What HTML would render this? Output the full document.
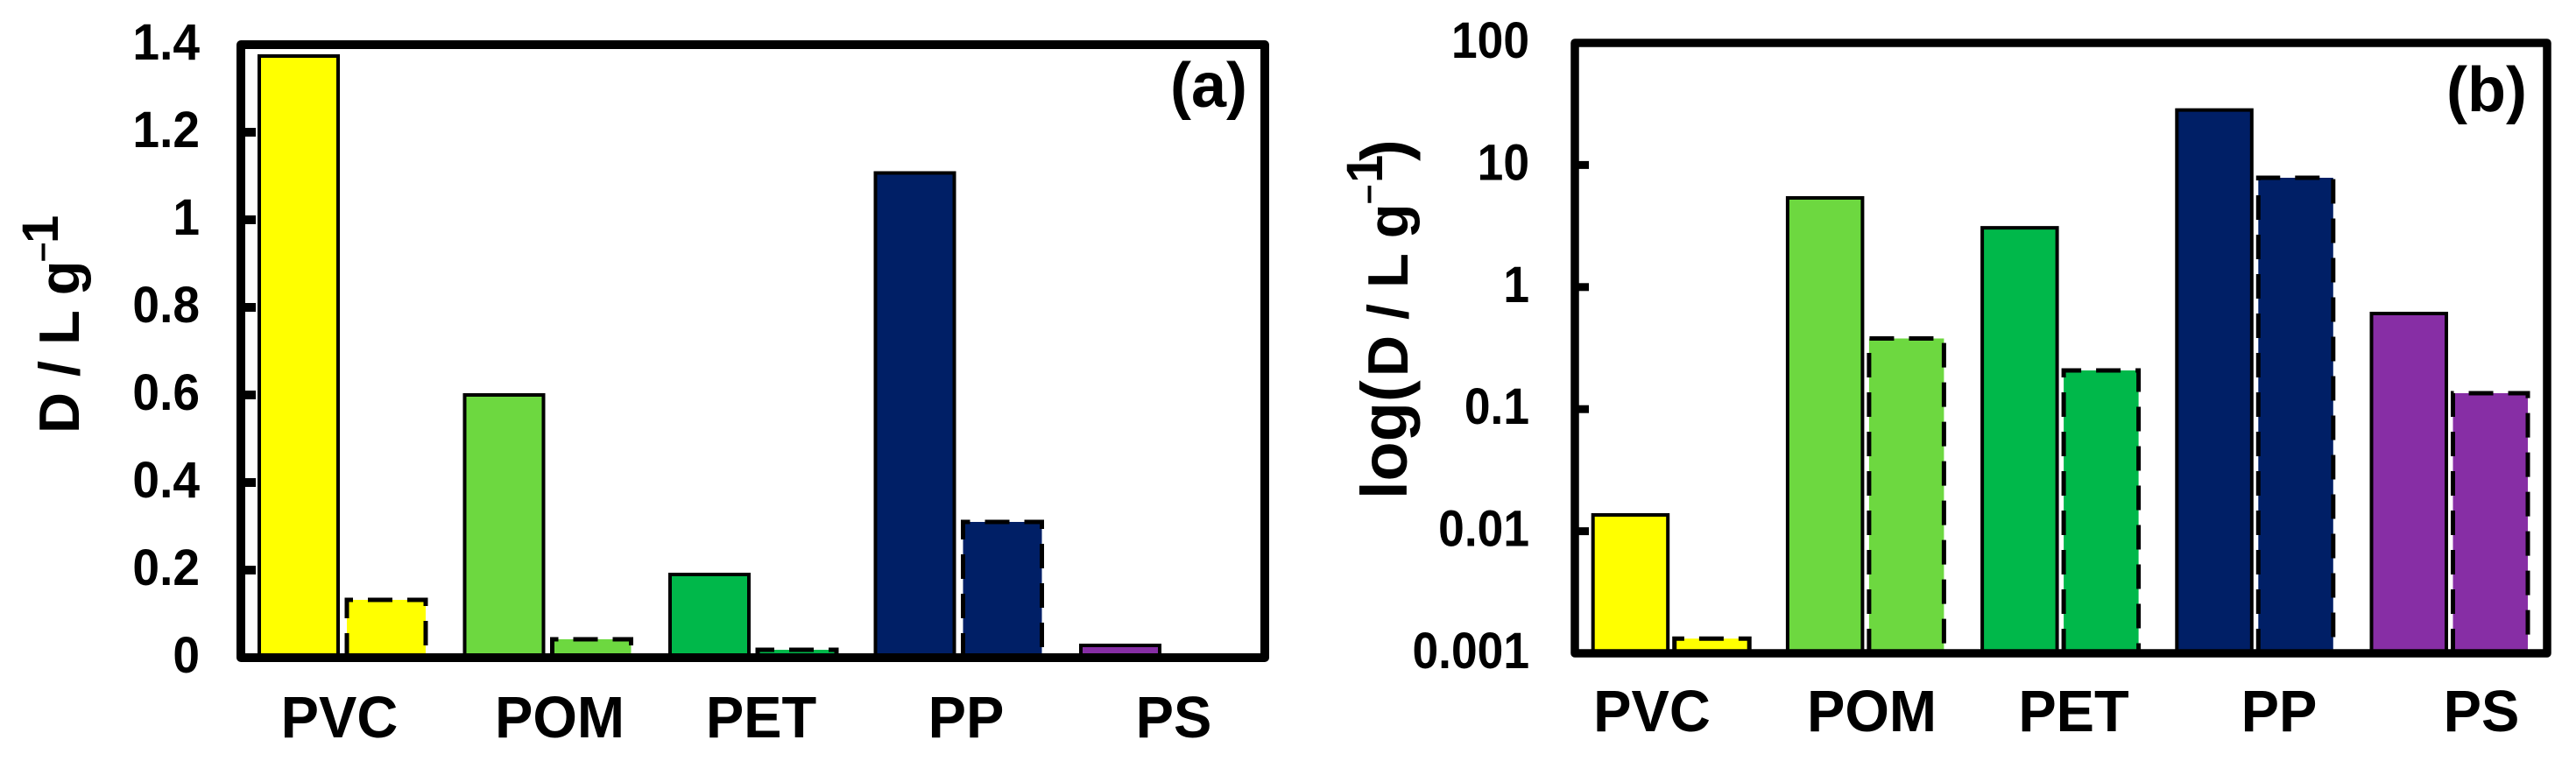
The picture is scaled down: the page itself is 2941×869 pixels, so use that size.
<!DOCTYPE html>
<html lang="en">
<head>
<meta charset="utf-8">
<title>D / L g-1 bar charts</title>
<style>
html,body{margin:0;padding:0;background:#fff;width:2941px;height:869px;overflow:hidden}
svg{display:block}
text{font-family:"Liberation Sans",Arial,sans-serif;font-weight:700;fill:#000}
</style>
</head>
<body>
<svg id="figure" xmlns="http://www.w3.org/2000/svg" width="2941" height="869" viewBox="0 0 2941 869">
  <rect width="2941" height="869" fill="#fff"/>
  <g id="panelA"></g>
  <g id="panelB"></g>

  <g>
    <text font-size="65" transform="translate(90,495) rotate(-90)">D / L g</text>
    <text font-size="40" transform="translate(60,299) rotate(-90)">–</text>
    <text font-size="58" transform="translate(66,278) rotate(-90)">1</text>
  </g>
  <g>
    <text font-size="74" transform="translate(1606,570) rotate(-90)">log(</text>
    <text font-size="65" transform="translate(1607,430) rotate(-90)">D / L g</text>
    <text font-size="40" transform="translate(1574,233) rotate(-90)">–</text>
    <text font-size="58" transform="translate(1578,209) rotate(-90)">1</text>
    <text font-size="74" transform="translate(1606,184) rotate(-90)">)</text>
  </g>

  <g font-size="67" text-anchor="middle">
    <text transform="translate(387.5,842) scale(.97,1)">PVC</text>
    <text transform="translate(639,842) scale(.97,1)">POM</text>
    <text transform="translate(869,842) scale(.97,1)">PET</text>
    <text transform="translate(1103,842) scale(.97,1)">PP</text>
    <text transform="translate(1340,842) scale(.97,1)">PS</text>
  </g>
  <g font-size="67" text-anchor="middle">
    <text transform="translate(1886,835) scale(.97,1)">PVC</text>
    <text transform="translate(2137,835) scale(.97,1)">POM</text>
    <text transform="translate(2367.5,835) scale(.97,1)">PET</text>
    <text transform="translate(2602,835) scale(.97,1)">PP</text>
    <text transform="translate(2833,835) scale(.97,1)">PS</text>
  </g>

  <text font-size="72" x="1336" y="122">(a)</text>
  <text font-size="72" x="2793" y="127">(b)</text>
</svg>

<script>
const categories = ['PVC', 'POM', 'PET', 'PP', 'PS'];
const solidA = [1.374, 0.60, 0.19, 1.107, 0.028];
const dashedA = [0.132, 0.042, 0.018, 0.31, 0];
const solidB = [0.0136, 5.37, 3.06, 28.2, 0.607];
const dashedB = [0.00132, 0.379, 0.2075, 7.86, 0.135];
const tickValuesA = [0, 0.2, 0.4, 0.6, 0.8, 1, 1.2, 1.4];
const tickValuesB = [0.001, 0.01, 0.1, 1, 10, 100];
const barColors = ['#ffff00', '#6dd840', '#00b84a', '#001f66', '#872ea5'];

const NS = 'http://www.w3.org/2000/svg';
function make(tag, attrs, parent) {
  const el = document.createElementNS(NS, tag);
  for (const k in attrs) el.setAttribute(k, attrs[k]);
  parent.appendChild(el);
  return el;
}

const yA = v => 751 - v * 500;
const yB = v => 746 - Math.log10(v / 0.001) * 139.4;

function drawPanel(root, cfg) {
  cfg.ticks.forEach(function (t) {
    const y = cfg.y(t);
    const mark = make('line', {x1: cfg.left, x2: cfg.tickEnd, y1: y, y2: y, stroke: '#000', 'stroke-width': cfg.tickWidth}, root);
    
    
    const label = make('text', {'font-size': 58, 'text-anchor': 'end', transform: 'translate(' + cfg.labelRight + ',' + (y + 17) + ') scale(' + cfg.labelScale + ',1)'}, root);
    label.textContent = String(t);
    
    
  });

  categories.forEach(function (cat, i) {
    const x = cfg.left + cfg.inset + cfg.band * i;
    const solidTop = cfg.y(cfg.solid[i]);
    const solid = make('path', {
      d: 'M' + x + ' ' + cfg.bottom + 'V' + solidTop + 'H' + (x + cfg.barW) + 'V' + cfg.bottom,
      fill: barColors[i], stroke: '#000', 'stroke-width': 4
    }, root);
    
    

    const dx = x + cfg.step;
    const dashedTop = cfg.dashed[i] > 0 ? cfg.y(cfg.dashed[i]) : cfg.bottom;
    const dashed = make('path', {
      d: 'M' + dx + ' ' + cfg.bottom + 'V' + dashedTop + 'H' + (dx + cfg.barW) + 'V' + cfg.bottom,
      fill: barColors[i], stroke: '#000', 'stroke-width': 5, 'stroke-dasharray': '28 17'
    }, root);
    
    
  });

  const frame = make('rect', {
    x: cfg.left, y: cfg.top, width: cfg.right - cfg.left, height: cfg.bottom - cfg.top,
    fill: 'none', stroke: '#000', 'stroke-width': cfg.frameWidth, 'stroke-linejoin': 'round'
  }, root);
  
  
}

drawPanel(document.getElementById('panelA'), {
  id: 'a', y: yA, ticks: tickValuesA, solid: solidA, dashed: dashedA,
  left: 275, right: 1444, top: 51, bottom: 751, tickEnd: 292, tickWidth: 10, frameWidth: 10,
  band: 234.5, inset: 21, barW: 90, step: 100, labelRight: 228, labelScale: 0.95
});
drawPanel(document.getElementById('panelB'), {
  id: 'b', y: yB, ticks: tickValuesB, solid: solidB, dashed: dashedB,
  left: 1798, right: 2908, top: 49, bottom: 746, tickEnd: 1814, tickWidth: 9, frameWidth: 9.5,
  band: 222.2, inset: 20.7, barW: 85.5, step: 93, labelRight: 1746, labelScale: 0.92
});
</script>
</body>
</html>
